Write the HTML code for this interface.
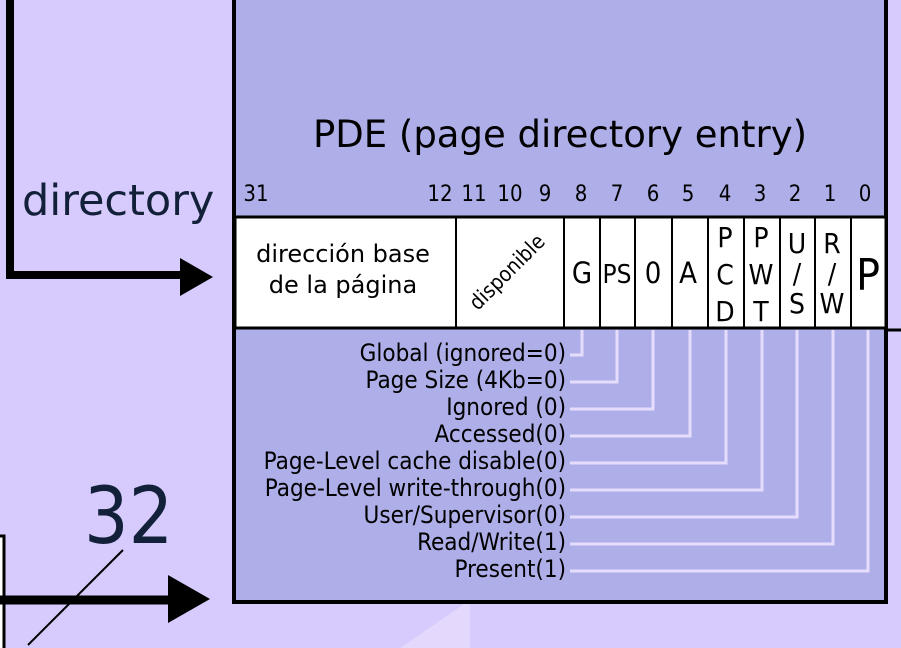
<!DOCTYPE html>
<html><head><style>
body{margin:0;background:#d6cbfc;}
svg{display:block;font-family:"DejaVu Sans Condensed","DejaVu Sans","Liberation Sans",sans-serif;}
</style></head><body>
<svg width="901" height="648" viewBox="0 0 901 648">
<rect width="901" height="648" fill="#d6cbfc"/>
<path d="M400 648 L470 600 L470 648Z" fill="#e4d8fc"/>
<rect x="234" y="-10" width="652" height="612" fill="#aeaee8" stroke="#000" stroke-width="4"/>
<text x="560" y="147" font-size="37" text-anchor="middle" fill="#000" style="font-family:'DejaVu Sans',sans-serif">PDE (page directory entry)</text>
<g font-size="22" text-anchor="middle" fill="#000">
<text x="256" y="201">31</text><text x="440" y="201">12</text><text x="474" y="201">11</text><text x="510" y="201">10</text><text x="545" y="201">9</text>
<text x="581" y="201">8</text><text x="617" y="201">7</text><text x="653" y="201">6</text><text x="688" y="201">5</text><text x="725" y="201">4</text><text x="760" y="201">3</text><text x="795" y="201">2</text><text x="830" y="201">1</text><text x="865" y="201">0</text>
</g>
<rect x="235" y="217" width="651" height="111" fill="#fff" stroke="#000" stroke-width="3"/>
<g stroke="#000" stroke-width="2">
<line x1="456" y1="217" x2="456" y2="328"/><line x1="564" y1="217" x2="564" y2="328"/><line x1="600" y1="217" x2="600" y2="328"/><line x1="635" y1="217" x2="635" y2="328"/><line x1="672" y1="217" x2="672" y2="328"/><line x1="708" y1="217" x2="708" y2="328"/><line x1="744" y1="217" x2="744" y2="328"/><line x1="780" y1="217" x2="780" y2="328"/><line x1="815" y1="217" x2="815" y2="328"/><line x1="851" y1="217" x2="851" y2="328"/>
</g>
<g font-size="28" text-anchor="middle" fill="#000">
<text x="343" y="262" font-size="24" style="font-family:'DejaVu Sans',sans-serif">dirección base</text><text x="343" y="293" font-size="24" style="font-family:'DejaVu Sans',sans-serif">de la página</text>
<text x="512" y="277" font-size="21" transform="rotate(-45 512 277)">disponible</text>
<text x="582" y="283" font-size="29">G</text>
<text x="617" y="283" font-size="26">PS</text>
<text x="653" y="283" font-size="29">0</text>
<text x="688" y="283" font-size="29">A</text>
<text x="725" y="247">P</text><text x="725" y="284">C</text><text x="725" y="321">D</text>
<text x="761" y="247">P</text><text x="761" y="284">W</text><text x="761" y="321">T</text>
<text x="797" y="253">U</text><text x="797" y="283">/</text><text x="797" y="313">S</text>
<text x="832" y="253">R</text><text x="832" y="283">/</text><text x="832" y="313">W</text>
<text x="868" y="290" font-size="44">P</text>
</g>
<g fill="none" stroke="#e6dcfc" stroke-width="3">
<path d="M582 330 V355 H570"/><path d="M617 330 V382 H570"/><path d="M653 330 V409 H570"/><path d="M690 330 V436 H570"/><path d="M726 330 V463 H570"/><path d="M762 330 V490 H570"/><path d="M797 330 V517 H570"/><path d="M833 330 V544 H570"/><path d="M868 330 V571 H570"/>
</g>
<g font-size="24" text-anchor="end" fill="#000">
<text x="566" y="361">Global (ignored=0)</text><text x="566" y="388">Page Size (4Kb=0)</text><text x="566" y="415">Ignored (0)</text><text x="566" y="442">Accessed(0)</text><text x="566" y="469">Page-Level cache disable(0)</text><text x="566" y="496">Page-Level write-through(0)</text><text x="566" y="523">User/Supervisor(0)</text><text x="566" y="550">Read/Write(1)</text><text x="566" y="577">Present(1)</text>
</g>
<line x1="886" y1="330" x2="901" y2="330" stroke="#000" stroke-width="3"/>
<text x="22" y="215" font-size="43" fill="#13203a" style="font-family:'DejaVu Sans',sans-serif">directory</text>
<path d="M10 0 V275 H185" fill="none" stroke="#000" stroke-width="8"/>
<path d="M180 258 L213 277 L180 296Z" fill="#000"/>
<rect x="-4" y="536" width="8" height="120" fill="#fff" stroke="#000" stroke-width="3"/>
<path d="M0 600 H172" stroke="#000" stroke-width="9"/>
<path d="M168 575 L210 599 L168 623Z" fill="#000"/>
<text x="84" y="543" font-size="78" fill="#13203a">32</text>
<line x1="123" y1="550" x2="28" y2="645" stroke="#000" stroke-width="2"/>
</svg>
</body></html>
